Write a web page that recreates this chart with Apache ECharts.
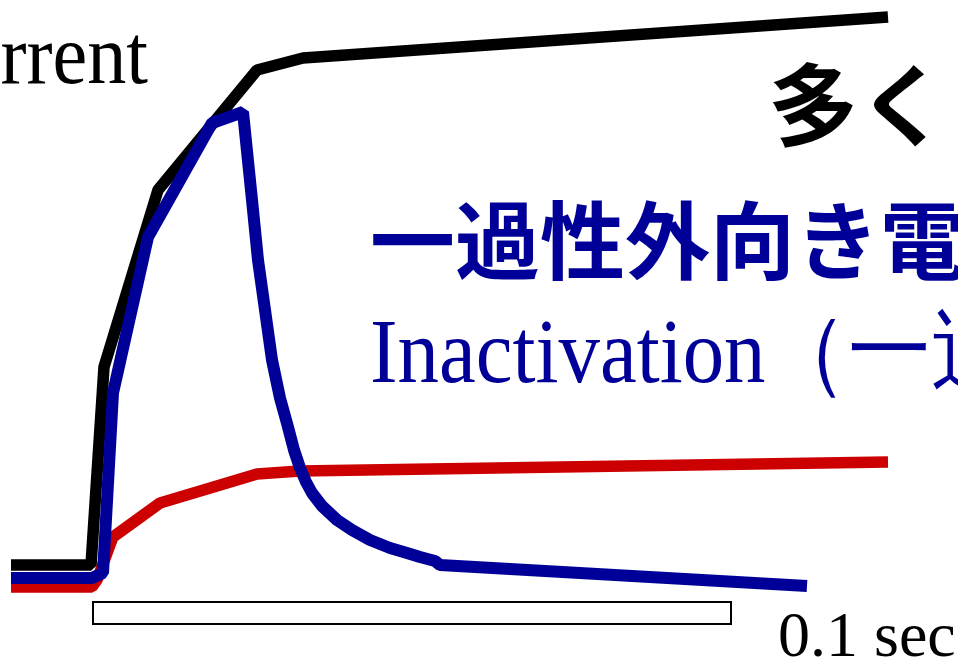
<!DOCTYPE html>
<html>
<head>
<meta charset="utf-8">
<script src="https://cdn.jsdelivr.net/npm/echarts@6/dist/echarts.min.js"></script>
<style>
  html, body { margin: 0; padding: 0; background: #fff; }
  #chart { width: 958px; height: 665px; }
</style>
</head>
<body>
<div id="chart"></div>
<script>
// 電流トレース（時間軸, 電流値）
var blackT = [11, 91, 104, 158, 257, 303, 888];
var blackI = [100, 100, 298, 475, 595, 607, 648];

var blueT = [11, 92, 103, 113, 148, 212, 243, 252, 258, 265, 272, 280, 288, 294, 300, 306, 312, 322, 337, 352, 370, 390, 407, 420, 435, 440, 807];
var blueI = [87, 87, 92, 272, 428, 542, 553, 465, 405, 355, 305, 267, 238, 215, 197, 183, 172, 159, 145, 135, 125, 117, 112, 108, 104, 100, 79];

var redT = [11, 92, 97, 113, 160, 257, 300, 888];
var redI = [78, 78, 85, 128, 162, 191, 194, 203];

// 刺激バー
var stimStart = 93, stimEnd = 731;
var stimLow = 41, stimHigh = 63;

function pairs(t, v) {
  return t.map(function (x, i) { return [x, v[i]]; });
}

var myChart = echarts.init(document.getElementById("chart"));
var serif = '"Liberation Serif", "DejaVu Serif", serif';
var cjk = '"Noto Sans CJK JP", sans-serif';

var option = {
  animation: false,
  backgroundColor: '#fff',
  grid: { left: 0, right: 0, top: 0, bottom: 0 },
  xAxis: { type: 'value', min: 0, max: 958, show: false },
  yAxis: { type: 'value', min: 0, max: 665, show: false },
  series: [
    {
      type: 'line',
      data: pairs(redT, redI),
      symbol: 'none',
      lineStyle: { color: '#cc0000', width: 11.5 },
      markArea: {
        silent: true,
        itemStyle: { color: '#fff', borderColor: '#000', borderWidth: 2 },
        data: [[{ coord: [stimStart, stimHigh] }, { coord: [stimEnd, stimLow] }]]
      }
    },
    {
      type: 'line',
      data: pairs(blackT, blackI),
      symbol: 'none',
      lineStyle: { color: '#000', width: 11.5 }
    },
    {
      type: 'line',
      data: pairs(blueT, blueI),
      symbol: 'none',
      lineStyle: { color: '#000099', width: 12 }
    }
  ],
  graphic: [
    {
      type: 'text', x: 148, y: 61, scaleX: 0.92,
      style: { text: 'Current', font: '85px ' + serif, fill: '#000', textAlign: 'right', textVerticalAlign: 'middle' }
    },
    {
      type: 'text', x: 768, y: 105,
      style: { text: '多く', font: 'bold 90px ' + cjk, fill: '#000', textVerticalAlign: 'middle' }
    },
    {
      type: 'text', x: 370, y: 241,
      style: { text: '一過性外向き電流', font: 'bold 85px ' + cjk, fill: '#000099', textVerticalAlign: 'middle' }
    },
    {
      type: 'text', x: 370, y: 358, scaleX: 0.9,
      style: { text: 'Inactivation（一過性）', font: '92px ' + serif, fill: '#000099', textVerticalAlign: 'middle' }
    },
    {
      type: 'text', x: 778, y: 639,
      style: { text: '0.1 sec', font: '64px ' + serif, fill: '#000', textVerticalAlign: 'middle' }
    }
  ]
};

myChart.setOption(option);
</script>
</body>
</html>
